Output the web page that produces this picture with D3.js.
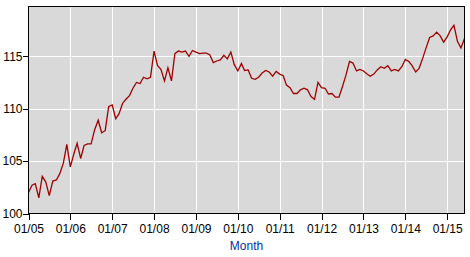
<!DOCTYPE html>
<html>
<head>
<meta charset="utf-8">
<script src="https://cdn.jsdelivr.net/npm/d3@7"></script>
<style>
  body { margin: 0; background: #fff; }
  text { font-family: Arial, "Liberation Sans", sans-serif; }
</style>
</head>
<body>
<div id="chart"></div>
<script>
// monthly values, Jan 2005 .. Jun 2015
let startMonth = [2005, 0];
let values = [
  102.0, 102.7, 102.85, 101.5, 103.55, 103.0, 101.7, 103.1, 103.2, 103.8, 104.8, 106.6,
  104.45, 105.7, 106.7, 105.25, 106.5, 106.65, 106.65, 108.0, 108.9, 107.7, 107.9, 110.2,
  110.35, 109.05, 109.5, 110.5, 110.9, 111.25, 111.95, 112.5, 112.4, 113.0, 112.85, 113.0,
  115.5, 114.1, 113.75, 112.65, 113.9, 112.65, 115.25, 115.5, 115.4, 115.5, 115.0, 115.55,
  115.4, 115.25, 115.3, 115.3, 115.15, 114.4, 114.55, 114.65, 115.1, 114.75, 115.4, 114.2,
  113.6, 114.3, 113.65, 113.7, 112.9, 112.8, 113.0, 113.4, 113.65, 113.5, 113.1, 113.55,
  113.3, 113.15, 112.25, 112.0, 111.45, 111.45, 111.8, 111.95, 111.8, 111.15, 110.9, 112.5,
  112.0, 111.95, 111.4, 111.45, 111.1, 111.1, 112.1, 113.2, 114.5, 114.35, 113.6, 113.75,
  113.6, 113.3, 113.1, 113.3, 113.7, 114.0, 113.85, 114.1, 113.6, 113.75, 113.6, 114.0,
  114.7, 114.5, 114.1, 113.5, 113.85, 114.8, 115.8, 116.8, 116.95, 117.3, 116.95, 116.35,
  116.85, 117.55, 117.95, 116.4, 115.8, 116.7
];
let yTicks = [100, 105, 110, 115];
let xTickYears = [2005, 2006, 2007, 2008, 2009, 2010, 2011, 2012, 2013, 2014, 2015];
let xTitle = "Month";

let data = values.map((v, i) => ({
  date: new Date(startMonth[0], startMonth[1] + i, 1),
  value: v
}));

let dim = { width: 470, height: 257 };
let plot = { left: 28.5, right: 464.5, top: 6.5, bottom: 213.5 };

let svg = d3.select("#chart").append("svg")
  .attr("width", dim.width)
  .attr("height", dim.height);

let scaleX = d3.scaleTime()
  .domain(d3.extent(data, d => d.date))
  .range([plot.left, plot.right]);

let scaleY = d3.scaleLinear()
  .domain([100, 119.75])
  .range([plot.bottom, plot.top]);

// background
svg.append("rect")
  .attr("x", plot.left).attr("y", plot.top)
  .attr("width", plot.right - plot.left)
  .attr("height", plot.bottom - plot.top)
  .attr("fill", "#d9d9d9");

let xTickDates = xTickYears.map(y => new Date(y, 0, 1));

// grid
let grid = svg.append("g").attr("shape-rendering", "crispEdges");
grid.selectAll(".gx").data(xTickDates.slice(1)).join("line")
  .attr("x1", d => Math.round(scaleX(d)) + 0.5).attr("x2", d => Math.round(scaleX(d)) + 0.5)
  .attr("y1", plot.top).attr("y2", plot.bottom)
  .attr("stroke", "#fff").attr("stroke-width", 1);
grid.selectAll(".gy").data(yTicks.slice(1)).join("line")
  .attr("x1", plot.left).attr("x2", plot.right)
  .attr("y1", d => Math.round(scaleY(d)) + 0.5).attr("y2", d => Math.round(scaleY(d)) + 0.5)
  .attr("stroke", "#fff").attr("stroke-width", 1);

// line
let line = d3.line()
  .x(d => scaleX(d.date))
  .y(d => scaleY(d.value));

svg.append("path")
  .datum(data)
  .attr("d", line)
  .attr("fill", "none")
  .attr("stroke", "#a00000")
  .attr("stroke-width", 1.3);

// frame
svg.append("rect")
  .attr("x", plot.left).attr("y", plot.top)
  .attr("width", plot.right - plot.left)
  .attr("height", plot.bottom - plot.top)
  .attr("fill", "none")
  .attr("stroke", "#000")
  .attr("stroke-width", 1)
  .attr("shape-rendering", "crispEdges");

// axes
let axisX = d3.axisBottom(scaleX)
  .tickValues(xTickDates)
  .tickFormat(d3.timeFormat("%m/%y"))
  .tickSize(6)
  .tickPadding(5);

let gx = svg.append("g")
  .attr("transform", `translate(0, ${plot.bottom})`)
  .call(axisX);

let axisY = d3.axisLeft(scaleY)
  .tickValues(yTicks)
  .tickSize(6)
  .tickPadding(0);

let gy = svg.append("g")
  .attr("transform", `translate(${plot.left}, 0)`)
  .call(axisY);

[gx, gy].forEach(g => {
  g.select(".domain").remove();
  g.selectAll("line").attr("stroke", "#000").attr("shape-rendering", "crispEdges");
  g.selectAll("text")
    .attr("fill", "#000")
    .style("font-size", "12px")
    .style("font-family", "Arial, 'Liberation Sans', sans-serif");
});

svg.append("text")
  .attr("x", (plot.left + plot.right) / 2)
  .attr("y", 250)
  .attr("text-anchor", "middle")
  .attr("fill", "#0033a0")
  .style("font-size", "12px")
  .text(xTitle);
</script>
</body>
</html>
